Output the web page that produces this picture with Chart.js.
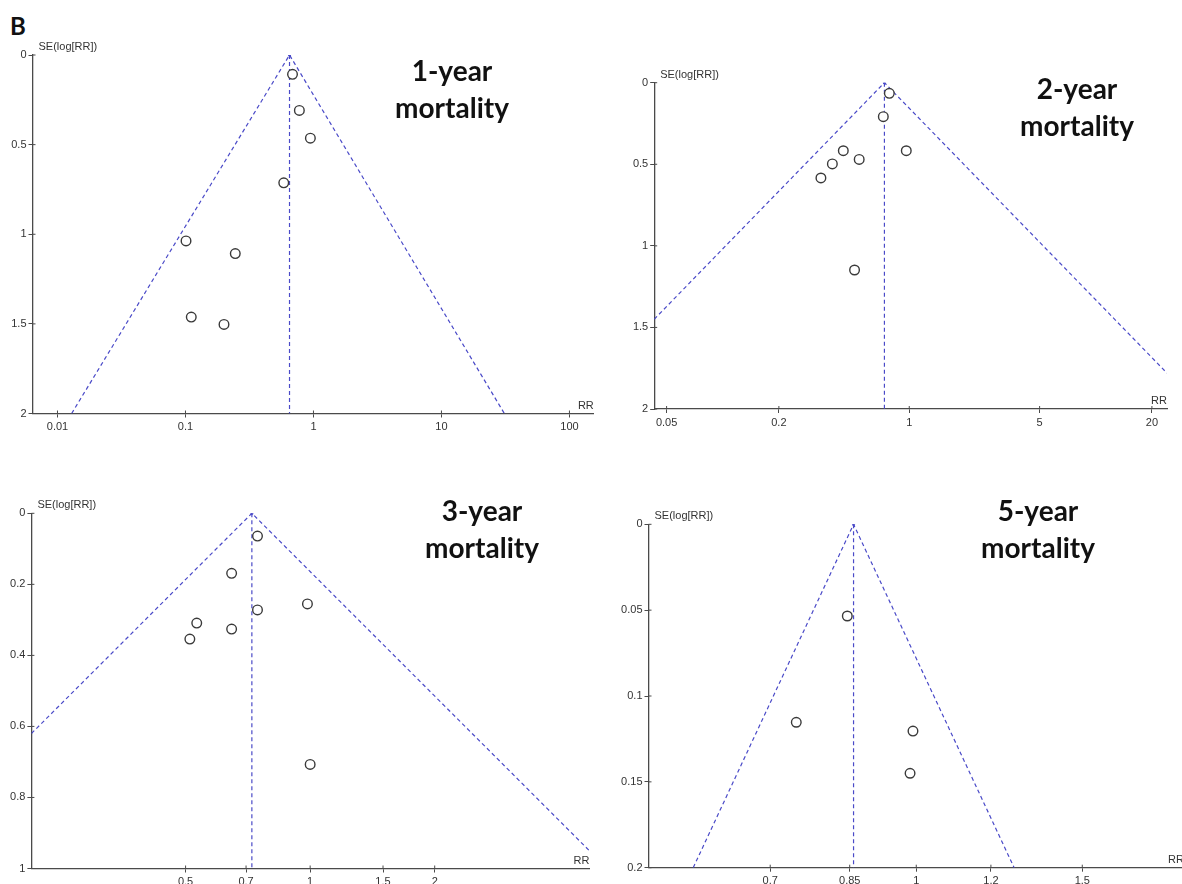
<!DOCTYPE html>
<html>
<head>
<meta charset="utf-8">
<script src="https://cdn.jsdelivr.net/npm/chart.js@4.4.1/dist/chart.umd.min.js"></script>
<style>
    html, body { margin: 0; padding: 0; background: #fff; overflow: hidden; }
    body { width: 1182px; height: 884px; position: relative; }
    .box { position: absolute; }
    .title {
        position: absolute;
        width: 220px;
        text-align: center;
        font: bold 28px Lato, "Open Sans", sans-serif;
        line-height: 37px;
        color: #111;
    }
    #letter {
        position: absolute;
        left: 10px;
        top: 11px;
        font: bold 24px Lato, "Open Sans", sans-serif;
        color: #111;
    }
</style>
</head>
<body>
<div id="letter">B</div>

<div class="box" id="box1"><canvas id="funnel1"></canvas></div>
<div class="box" id="box2"><canvas id="funnel2"></canvas></div>
<div class="box" id="box3"><canvas id="funnel3"></canvas></div>
<div class="box" id="box4"><canvas id="funnel4"></canvas></div>

<div class="title" style="left:342px; top:52px">1-year<br>mortality</div>
<div class="title" style="left:967px; top:70px">2-year<br>mortality</div>
<div class="title" style="left:372px; top:492px">3-year<br>mortality</div>
<div class="title" style="left:928px; top:492px">5-year<br>mortality</div>

<script>
// 1-year mortality
const rr1 = [0.686, 0.776, 0.946, 0.586, 0.101, 0.245, 0.111, 0.2];
const se1 = [0.108, 0.309, 0.464, 0.713, 1.037, 1.108, 1.462, 1.503];
const pooled1 = 0.65;
const funnelRR1 = [0.0129, 0.65, 31];
const funnelSE1 = [2, 0, 2];
const xTicks1 = [0.01, 0.1, 1, 10, 100];
const yTicks1 = [0, 0.5, 1, 1.5, 2];

// 2-year mortality
const rr2 = [0.782, 0.726, 0.443, 0.964, 0.539, 0.387, 0.336, 0.509];
const se2 = [0.065, 0.208, 0.417, 0.417, 0.47, 0.498, 0.584, 1.148];
const pooled2 = 0.736;
const funnelRR2 = [0.0429, 0.736, 24.1];
const funnelSE2 = [1.45, 0, 1.78];
const xTicks2 = [0.05, 0.2, 1, 5, 20];
const yTicks2 = [0, 0.5, 1, 1.5, 2];

// 3-year mortality
const rr3 = [0.746, 0.646, 0.985, 0.746, 0.532, 0.646, 0.512, 1.0];
const se3 = [0.064, 0.169, 0.255, 0.272, 0.309, 0.326, 0.354, 0.707];
const pooled3 = 0.723;
const funnelRR3 = [0.212, 0.723, 4.73];
const funnelSE3 = [0.62, 0, 0.95];
const xTicks3 = [0.5, 0.7, 1, 1.5, 2];
const yTicks3 = [0, 0.2, 0.4, 0.6, 0.8, 1];

// 5-year mortality
const rr4 = [0.845, 0.746, 0.992, 0.985];
const se4 = [0.0534, 0.1153, 0.1204, 0.145];
const pooled4 = 0.858;
const funnelRR4 = [0.58, 0.858, 1.27];
const funnelSE4 = [0.2, 0, 0.2];
const xTicks4 = [0.7, 0.85, 1, 1.2, 1.5];
const yTicks4 = [0, 0.05, 0.1, 0.15, 0.2];

const AXIS_COLOR = "#4a4a4a";
const TEXT_COLOR = "#333";
const FUNNEL_COLOR = "#4a4ac8";
const Y_AXIS_W = 30;
const X_AXIS_H = 24;

// page boxes and plot areas (page pixels)
const layouts = [
    { box: { left: 0, top: 30, w: 600, h: 410 }, area: { L: 32.5, T: 55, R: 597, B: 413.5 }, xMin: 0.00638, xMax: 155 },
    { box: { left: 600, top: 60, w: 582, h: 380 }, area: { L: 654.2, T: 82.7, R: 1167, B: 409 }, xMin: 0.0429, xMax: 24.1 },
    { box: { left: 0, top: 490, w: 600, h: 410 }, area: { L: 31.4, T: 513.3, R: 589.4, B: 868.5 }, xMin: 0.212, xMax: 4.73 },
    { box: { left: 600, top: 490, w: 600, h: 410 }, area: { L: 648.5, T: 524.3, R: 1184, B: 867.7 }, xMin: 0.52, xMax: 1.923 },
];

const funnelDecor = {
    id: "funnelDecor",
    afterDraw(chart) {
        const { ctx, chartArea: a, scales } = chart;
        ctx.save();
        // inner half of the cross ticks
        ctx.strokeStyle = AXIS_COLOR;
        ctx.lineWidth = 1;
        ctx.beginPath();
        scales.y.ticks.forEach((t) => {
            const y = scales.y.getPixelForValue(t.value);
            ctx.moveTo(a.left, y);
            ctx.lineTo(a.left + 3, y);
        });
        scales.x.ticks.forEach((t) => {
            const x = scales.x.getPixelForValue(t.value);
            ctx.moveTo(x, a.bottom);
            ctx.lineTo(x, a.bottom - 3);
        });
        ctx.stroke();
        ctx.fillStyle = TEXT_COLOR;
        ctx.font = "11px 'Liberation Sans', Arial, sans-serif";
        ctx.textBaseline = "middle";
        ctx.textAlign = "left";
        ctx.fillText("SE(log[RR])", a.left + 6, a.top - 8);
        ctx.textAlign = "right";
        ctx.fillText("RR", a.right, a.bottom - 8);
        ctx.restore();
    },
};

function toPoints(xs, ys) {
    return xs.map((x, i) => ({ x: x, y: ys[i] }));
}

function makeFunnel(canvasId, boxId, lay, rr, se, pooled, funnelRR, funnelSE, xTicks, yTicks) {
    const box = document.getElementById(boxId);
    box.style.left = lay.box.left + "px";
    box.style.top = lay.box.top + "px";
    box.style.width = lay.box.w + "px";
    box.style.height = lay.box.h + "px";

    const yMax = yTicks[yTicks.length - 1];
    const padding = {
        left: lay.area.L - lay.box.left - Y_AXIS_W,
        top: lay.area.T - lay.box.top,
        right: lay.box.left + lay.box.w - lay.area.R,
        bottom: lay.box.top + lay.box.h - lay.area.B - X_AXIS_H,
    };
    const tickFont = { family: "'Liberation Sans', Arial, sans-serif", size: 11 };

    return new Chart(document.getElementById(canvasId), {
        type: "scatter",
        data: {
            datasets: [
                {
                    label: "Studies",
                    data: toPoints(rr, se),
                    pointStyle: "circle",
                    pointRadius: 4.8,
                    borderWidth: 1.4,
                    borderColor: "#3a3a3a",
                    backgroundColor: "#fff",
                    order: 0,
                },
                {
                    label: "Funnel",
                    data: toPoints(funnelRR, funnelSE),
                    showLine: true,
                    borderColor: FUNNEL_COLOR,
                    borderWidth: 1.2,
                    borderDash: [4, 3],
                    pointRadius: [0, 1.6, 0],
                    pointBackgroundColor: FUNNEL_COLOR,
                    pointBorderWidth: 0,
                    tension: 0,
                    order: 1,
                },
                {
                    label: "Pooled",
                    data: toPoints([pooled, pooled], [0, yMax]),
                    showLine: true,
                    borderColor: FUNNEL_COLOR,
                    borderWidth: 1.2,
                    borderDash: [4, 3],
                    pointRadius: 0,
                    order: 1,
                },
            ],
        },
        options: {
            responsive: true,
            maintainAspectRatio: false,
            animation: false,
            layout: { padding: padding },
            plugins: {
                legend: { display: false },
                tooltip: { enabled: false },
            },
            scales: {
                x: {
                    type: "logarithmic",
                    min: lay.xMin,
                    max: lay.xMax,
                    afterBuildTicks: (scale) => {
                        scale.ticks = xTicks.map((v) => ({ value: v }));
                    },
                    afterFit: (scale) => {
                        scale.height = X_AXIS_H;
                    },
                    ticks: {
                        autoSkip: false,
                        maxRotation: 0,
                        padding: 3,
                        color: TEXT_COLOR,
                        font: tickFont,
                        callback: (v) => String(v),
                    },
                    grid: {
                        drawOnChartArea: false,
                        drawTicks: true,
                        tickLength: 4,
                        color: AXIS_COLOR,
                    },
                    border: { color: AXIS_COLOR, width: 1.3 },
                },
                y: {
                    type: "linear",
                    reverse: true,
                    min: 0,
                    max: yMax,
                    afterBuildTicks: (scale) => {
                        scale.ticks = yTicks.map((v) => ({ value: v }));
                    },
                    afterFit: (scale) => {
                        scale.width = Y_AXIS_W;
                    },
                    ticks: {
                        autoSkip: false,
                        padding: 2,
                        color: TEXT_COLOR,
                        font: tickFont,
                        callback: (v) => String(v),
                    },
                    grid: {
                        drawOnChartArea: false,
                        drawTicks: true,
                        tickLength: 4,
                        color: AXIS_COLOR,
                    },
                    border: { color: AXIS_COLOR, width: 1.3 },
                },
            },
        },
        plugins: [funnelDecor],
    });
}

makeFunnel("funnel1", "box1", layouts[0], rr1, se1, pooled1, funnelRR1, funnelSE1, xTicks1, yTicks1);
makeFunnel("funnel2", "box2", layouts[1], rr2, se2, pooled2, funnelRR2, funnelSE2, xTicks2, yTicks2);
makeFunnel("funnel3", "box3", layouts[2], rr3, se3, pooled3, funnelRR3, funnelSE3, xTicks3, yTicks3);
makeFunnel("funnel4", "box4", layouts[3], rr4, se4, pooled4, funnelRR4, funnelSE4, xTicks4, yTicks4);
</script>
</body>
</html>
